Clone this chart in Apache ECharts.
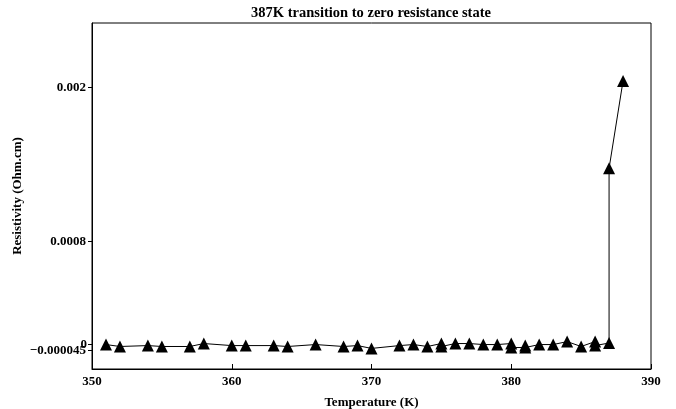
<!DOCTYPE html>
<html><head><meta charset="utf-8">
<script src="https://cdn.jsdelivr.net/npm/echarts@6/dist/echarts.min.js"></script>
<style>html,body{margin:0;padding:0;background:#fff}#c{width:676px;height:409px}</style>
</head><body><div id="c"></div>
<script>
const temperatures = [351,352,354,355,357,358,360,361,363,364,366,368,369,370,372,373,374,375,375,376,377,378,379,380,380,381,381,382,383,384,385,386,386,387,387,388];
const resistivity = [0,-0.000015,-0.000008,-0.000015,-0.000015,0.000008,-0.000008,-0.000008,-0.000008,-0.000015,0,-0.000015,-0.000008,-0.00003,-0.000008,0,-0.000015,0.000008,-0.000015,0.000008,0.000008,0,0,0.000008,-0.000023,-0.000023,-0.000008,0,0,0.000023,-0.000015,0.000023,-0.000008,0.000012,0.00137,0.00205];
const yTicks = [-0.000045, 0.0008, 0.002];
const yZeroTick = [0];
const xTicks = [350, 360, 370, 380, 390];

const chart = echarts.init(document.getElementById('c'));
const font = 'Liberation Serif, Times New Roman, serif';
const yMin = -0.00019, yMax = 0.0025;
const labelStyle = {fontFamily: font, fontWeight: 'bold', fontSize: 13, color: '#000'};
const fmt = v => Math.abs(v) < 1e-12 ? '0' : (v < 0 ? '\u2212' + (-v).toFixed(6) : String(v));
chart.setOption({
  animation: false,
  title: {text: '387K transition to zero resistance state', left: 366, textAlign: 'center', top: 1,
    textStyle: {fontFamily: font, fontWeight: 'bold', fontSize: 14.5, color: '#000'}},
  grid: {left: 92, right: 25, top: 23, bottom: 40, show: true, borderColor: '#000', borderWidth: 1,
    outerBoundsMode: 'none', containLabel: false},
  xAxis: {type: 'value', min: 350, max: 390, interval: 10,
    name: 'Temperature (K)', nameLocation: 'middle', nameGap: 27, nameMoveOverlap: false,
    nameTextStyle: labelStyle,
    axisLine: {onZero: false, lineStyle: {color: '#000'}},
    axisTick: {inside: true, length: 5, customValues: xTicks, lineStyle: {color: '#000'}},
    axisLabel: Object.assign({customValues: xTicks, margin: 6}, labelStyle),
    splitLine: {show: false}},
  yAxis: [{type: 'value', min: yMin, max: yMax,
    name: 'Resistivity (Ohm.cm)', nameLocation: 'middle', nameGap: 68, nameRotate: 90, nameMoveOverlap: false,
    nameTextStyle: labelStyle,
    axisLine: {onZero: false, lineStyle: {color: '#000'}},
    axisTick: {length: 4, customValues: yTicks, lineStyle: {color: '#000'}},
    axisLabel: Object.assign({customValues: yTicks, hideOverlap: false, margin: 6, formatter: fmt}, labelStyle),
    splitLine: {show: false}},
   {type: 'value', min: yMin, max: yMax, position: 'left', offset: 0,
    axisLine: {show: false},
    axisTick: {length: 4, customValues: yZeroTick, lineStyle: {color: '#000'}},
    axisLabel: Object.assign({customValues: yZeroTick, margin: 5, formatter: fmt}, labelStyle),
    splitLine: {show: false}}],
  series: [{type: 'line', data: temperatures.map((t, i) => [t, resistivity[i]]),
    symbol: 'triangle', symbolSize: 12, itemStyle: {color: '#000'},
    lineStyle: {color: '#000', width: 1}}]
});
</script></body></html>
